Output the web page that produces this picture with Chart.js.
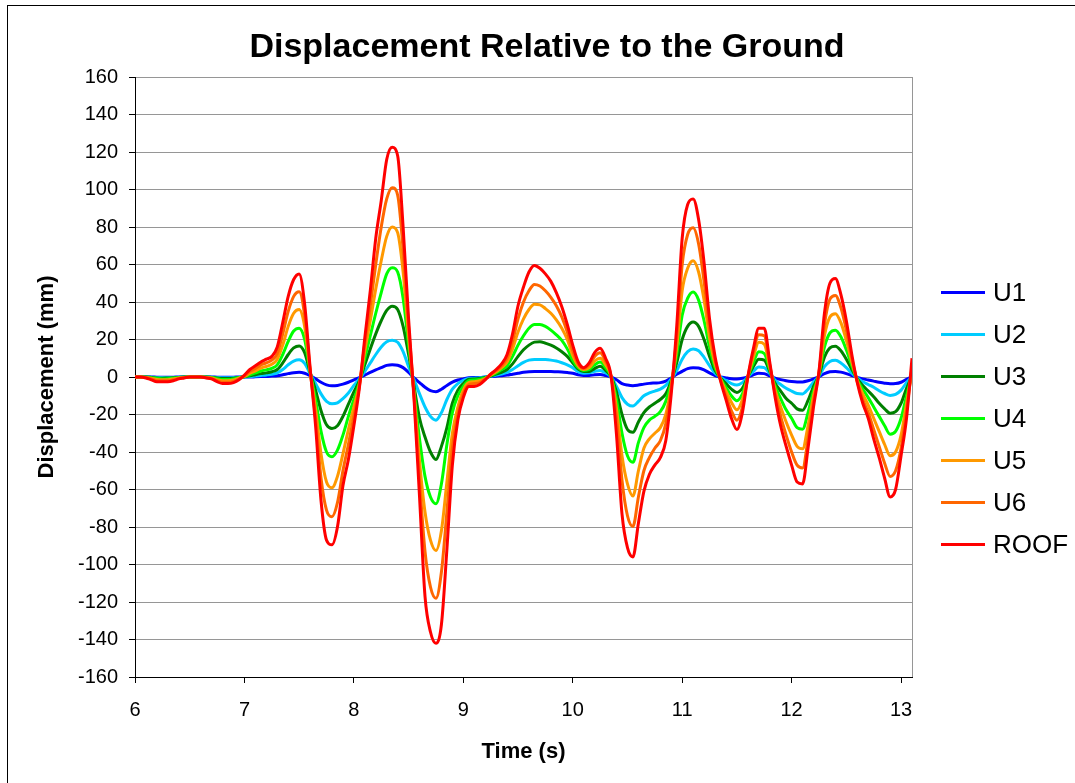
<!DOCTYPE html>
<html><head><meta charset="utf-8">
<script src="https://cdn.jsdelivr.net/npm/chart.js@4.4.1/dist/chart.umd.min.js"></script>
<style>html,body{margin:0;padding:0;background:#fff;}canvas{display:block;}</style>
</head><body>
<canvas id="c" width="1075" height="783"></canvas>
<script>
// Time (s)
const times = [
6,6.05,6.1,6.15,6.2,6.25,6.3,6.35,6.4,6.45,6.5,6.55,6.6,6.65,6.7,6.75,6.8,6.85,6.9,6.95,
7,7.05,7.1,7.15,7.2,7.25,7.3,7.35,7.4,7.45,7.5,7.55,7.6,7.65,7.7,7.75,7.8,7.85,7.9,7.95,
8,8.05,8.1,8.15,8.2,8.25,8.3,8.35,8.4,8.45,8.5,8.55,8.6,8.65,8.7,8.75,8.8,8.85,8.9,8.95,
9,9.05,9.1,9.15,9.2,9.25,9.3,9.35,9.4,9.45,9.5,9.55,9.6,9.65,9.7,9.75,9.8,9.85,9.9,9.95,
10,10.05,10.1,10.15,10.2,10.25,10.3,10.35,10.4,10.45,10.5,10.55,10.6,10.65,10.7,10.75,10.8,10.85,10.9,10.95,
11,11.05,11.1,11.15,11.2,11.25,11.3,11.35,11.4,11.45,11.5,11.55,11.6,11.65,11.7,11.75,11.8,11.85,11.9,11.95,
12,12.05,12.1,12.15,12.2,12.25,12.3,12.35,12.4,12.45,12.5,12.55,12.6,12.65,12.7,12.75,12.8,12.85,12.9,12.95,
13,13.05,13.1];

// Displacement (mm)
const U1 = [
0,0,0,0,-0.1,-0.1,-0.1,-0.1,0,0,0,0,0,0,0,-0.1,-0.1,-0.1,-0.1,0,
0,0,0.1,0.2,0.3,0.5,0.7,1.2,1.8,2.3,2.5,2,0.7,-1,-2.8,-4.2,-4.7,-4.5,-3.8,-2.8,
-1.5,-0.3,1,2.5,3.8,5,6.2,6.6,6.3,5,2.5,-0.5,-3,-5.5,-7.3,-7.8,-6.5,-4.5,-2.7,-1.6,
-1,-0.4,-0.3,-0.2,0,0.2,0.4,0.7,1,1.5,2,2.5,2.8,2.9,2.9,2.9,2.9,2.8,2.7,2.4,
2,1.2,0.8,0.8,1.2,1.3,0.8,0,-1.5,-3.5,-4.3,-4.6,-4.3,-3.8,-3.4,-3.2,-3,-2.2,-0.5,1.5,
3,4.5,5,4.8,3.8,2.2,0.8,0,-0.5,-0.9,-1,-0.7,0,1.2,2,1.8,0.6,-0.6,-1.4,-2,
-2.4,-2.6,-2.6,-2,-1,0.2,1.8,2.8,3,2.6,1.8,0.8,-0.2,-1,-1.6,-2.2,-2.8,-3.3,-3.6,-3.5,
-2.8,-1.2,0.2];
const U2 = [
0,0,0,-0.1,-0.2,-0.3,-0.3,-0.2,-0.1,0,0,0,0,0,-0.1,-0.2,-0.4,-0.4,-0.3,-0.1,
0,0.2,0.5,0.8,1.1,1.5,2.2,4,6.5,8.5,9.2,7.3,1.8,-3.5,-9,-13,-14.3,-13.8,-11.5,-8.5,
-4.5,-1,3,7.5,12,16,18.8,19.6,18.5,13.5,5.5,-1.5,-9,-16,-21,-23,-19,-12,-6.5,-3.5,
-1.8,-0.8,-0.6,-0.4,0,0.4,1,1.6,2.5,4,6,7.8,9,9.4,9.4,9.3,9,8.5,7.6,6.5,
5,2.8,2,2.2,3,3.5,2.2,0.1,-5,-11,-14.5,-15.5,-13,-10,-8.5,-7.5,-6.5,-4.5,-1,3.5,
9.5,13.5,15,14,10.5,6,2,-0.2,-1.8,-3.5,-4.3,-3,0,3,5.3,5,1.8,-1.8,-4,-6,
-7.5,-8.8,-9,-6.5,-2.8,0.5,5.5,8.3,8.9,7.5,5,2,-0.5,-2.5,-4,-5.5,-7.3,-8.8,-9.8,-9.3,
-7,-3,0.2];
const U3 = [
0,0,0,-0.2,-0.5,-0.6,-0.5,-0.4,-0.2,0,0,0,0,0,-0.2,-0.5,-0.8,-0.8,-0.6,-0.2,
0.1,0.6,1.2,1.8,2.2,2.8,4,7.5,12,15.5,16.6,13,2.5,-7,-18,-25.5,-27.5,-26,-21,-14.5,
-8,-2,6.5,15,23,30,35.5,37.7,36,27,12,-5,-22,-32,-40,-44,-37,-27,-14,-7,
-3.5,-1.2,-1,-0.8,-0.3,0.5,1.5,2.5,4,7,11,14.5,17,18.6,18.8,18,17,15.5,13.5,11,
7.5,4.2,3,3,4.5,5.8,3.5,0.2,-8,-20,-28,-29.5,-24,-19,-16,-14,-12,-9,-2,7.5,
20,27,29.3,27,20,11,3.5,-0.5,-3.5,-6.5,-8.2,-6,0,5.5,9.5,9,3,-3.5,-7.5,-11.5,
-14,-17,-17.7,-12.5,-5,1,10.5,15.5,16.4,14,9.5,4,-1,-4.5,-7.5,-10.5,-14,-17,-19.3,-18.5,
-14,-6,0.5];
const U4 = [
0,0,-0.1,-0.4,-0.8,-1,-0.9,-0.6,-0.3,-0.1,0,0,0,-0.1,-0.3,-0.9,-1.3,-1.3,-1,-0.3,
0.2,1.2,2.2,3.2,3.8,4.6,6.5,12,19,24.5,26,20,3,-12,-29,-40,-42.5,-39,-31,-21,
-12,-3,10,22,34,45,55,58.3,56,42,17,-8,-33,-53,-64,-67.6,-57,-36,-19,-10,
-5,-2,-1.6,-1.2,-0.5,0.8,2.2,4,6,11,17,22,26,28,28,27,25,22.5,19.5,15,
9,5,3.5,4,6.5,8,5,0.3,-12,-30,-42,-45.5,-35,-27,-23,-21,-18.5,-13,-3,12,
33,42,45.3,41,30,16,5,-0.8,-5.5,-10,-12.6,-9,0,7.5,13.5,12.5,4,-5,-11.5,-17.5,
-22,-27,-27.8,-19,-7.5,1.5,16,23.5,25,21.5,14.5,6,-1.5,-6.5,-11,-16,-21,-26,-30.5,-29,
-22,-10,1.5];
const U5 = [
0,0,-0.2,-0.7,-1.3,-1.5,-1.4,-1,-0.5,-0.2,0,0,0,-0.2,-0.5,-1.4,-2,-2,-1.6,-0.6,
0.3,2,3.3,4.8,5.6,6.8,9.5,17,27,34,36,27,3.5,-17,-41,-56,-59,-53,-41,-28,
-16,-4,14,30,47,62,75,80,77,56,22,-9,-45,-72,-87,-92.5,-82,-56,-30,-16,
-7,-3,-2.5,-2,-0.8,1,2.8,5,8,15,24,31,36,38.8,38.5,36.5,34,30.5,26,20,
11.5,6,4,5,8.5,10,6.5,0.5,-17,-42,-57,-63.5,-50,-38,-33,-30,-27,-20,-5,16,
46,58,62,56,41,21,7,-1,-7.5,-13.5,-17.5,-12,0,10.5,18.5,17.5,5.5,-7,-16,-24,
-31,-37,-38.3,-26,-10,2,22,32,33.8,29,19.5,8,-2,-9,-15,-22,-29,-36,-42,-40,
-31,-14,3];
const U6 = [
0,0,-0.3,-1,-2,-2,-2,-1.5,-0.8,-0.3,0,0,0,-0.3,-0.8,-2,-2.8,-2.8,-2.3,-1,
0.5,3,4.5,6.5,7.5,9,12.5,23,35,43,45.5,33,4,-22,-54,-71,-74.5,-67,-50,-36,
-21,-5,18,38,60,80,95,101,97,68,27,-10,-55,-93,-112,-118,-104,-72,-38,-20,
-9,-4,-3.5,-3,-1,1.5,3.5,6,10,19,31,40,46,49.4,48.5,46,42.5,38,32,24,
14,7,4.5,6.5,11,13,8.5,0.5,-22,-55,-74,-79.7,-64,-50,-43,-38,-34,-25,-6,21,
60,76,79.6,71,51,26,9,-1.5,-10,-18,-23,-16,0,13,22.5,22,6.5,-9,-21,-31,
-40,-47,-48.5,-33,-13,2.5,28,41.5,43.5,37,25,10,-2.5,-12,-19,-28,-37,-46,-53,-50,
-38,-18,5];
const ROOF = [
0,0,-0.5,-1.5,-2.5,-2.5,-2.5,-2,-1,-0.5,0,0,0,-0.5,-1,-2.5,-3.5,-3.5,-3,-1.5,
1,4,6,8,9.5,11,16,29,43,52,55,39,5,-26,-66,-87,-89.5,-80,-58,-44,
-26,-6,21,46,74,94,116,122.5,118,80,31,-12,-64,-117,-136,-142,-132,-92,-47,-23,
-11,-5,-5,-4,-1.5,1.5,4,7,12,23,38,48,56,59.5,58,55,51,45,37.5,28,
17,8,5,7.5,13,15.3,10,0.5,-31,-73,-91,-96,-78,-61,-52,-47,-43,-34,-9,27,
74,92,95,84,61,31,11,-2,-12,-22,-28,-19,0,15,26,26,8,-11,-26,-37,
-47,-56,-57,-38,-16,3,34,50,52.5,44,30,12,-3,-14,-22,-33,-43,-54,-64,-60,
-42,-22,10];

const seriesNames = ['U1','U2','U3','U4','U5','U6','ROOF'];
const seriesData = [U1,U2,U3,U4,U5,U6,ROOF];
const seriesColors = ['#0000FF','#00CCFF','#008000','#00FF00','#FF9900','#FF6600','#FF0000'];
const xTicks = [6,7,8,9,10,11,12,13];
const yTicks = [-160,-140,-120,-100,-80,-60,-40,-20,0,20,40,60,80,100,120,140,160];
const chartTitle = 'Displacement Relative to the Ground';
const xTitle = 'Time (s)';
const yTitle = 'Displacement (mm)';

const FONT = 'Arial, "Liberation Sans", sans-serif';
Chart.defaults.font.family = FONT;
Chart.defaults.color = '#000';

const datasets = seriesNames.map((name, i) => ({
  label: name,
  data: times.map((t, k) => ({x: t, y: seriesData[i][k]})),
  borderColor: seriesColors[i],
  backgroundColor: seriesColors[i],
  borderWidth: 3,
  pointRadius: 0,
  fill: false,
  cubicInterpolationMode: 'monotone',
  order: seriesNames.length - 1 - i
}));

const framePlugin = {
  id: 'frame',
  beforeDraw(chart) {
    const ctx = chart.ctx;
    ctx.save();
    ctx.fillStyle = '#fff';
    ctx.fillRect(0, 0, chart.width, chart.height);
    ctx.strokeStyle = '#000';
    ctx.lineWidth = 1;
    ctx.strokeRect(7.5, 5.5, 1100, 800);
    ctx.restore();
  },
  beforeDatasetsDraw(chart) {
    const {ctx, chartArea} = chart;
    ctx.save();
    ctx.strokeStyle = '#969696';
    ctx.lineWidth = 1;
    const x = Math.round(chartArea.right) + 0.5;
    ctx.beginPath();
    ctx.moveTo(x, chartArea.top);
    ctx.lineTo(x, chartArea.bottom);
    ctx.stroke();
    ctx.restore();
  },
  afterDraw(chart) {
    const ctx = chart.ctx;
    ctx.save();
    // title
    ctx.fillStyle = '#000';
    ctx.font = 'bold 34px ' + FONT;
    ctx.textAlign = 'center';
    ctx.textBaseline = 'middle';
    ctx.fillText(chartTitle, 547, 48);
    // legend
    ctx.font = '26px ' + FONT;
    ctx.textAlign = 'left';
    chart.data.datasets.forEach((ds, i) => {
      const y = 292.5 + i * 42;
      ctx.strokeStyle = ds.borderColor;
      ctx.lineWidth = 3;
      ctx.beginPath();
      ctx.moveTo(941, y);
      ctx.lineTo(985, y);
      ctx.stroke();
      ctx.fillStyle = '#000';
      ctx.fillText(ds.label, 993, y + 1);
    });
    ctx.restore();
  }
};

new Chart(document.getElementById('c'), {
  type: 'line',
  data: {datasets},
  options: {
    responsive: false,
    animation: false,
    devicePixelRatio: 1,
    layout: {padding: {left: 8, top: 77, right: 163, bottom: 0}},
    plugins: {legend: {display: false}, tooltip: {enabled: false}, title: {display: false}},
    scales: {
      x: {
        type: 'linear',
        min: 6, max: 13.1,
        afterBuildTicks: s => { s.ticks = xTicks.map(v => ({value: v})); },
        afterFit: s => { s.height = 106; },
        ticks: {font: {size: 20}, color: '#000', padding: 15, maxRotation: 0, autoSkip: false},
        grid: {drawOnChartArea: false, drawTicks: true, tickLength: 6, tickColor: '#000'},
        border: {color: '#000', width: 1},
        title: {display: true, text: xTitle, font: {size: 22, weight: 'bold'}, color: '#000', padding: {top: 0, bottom: 18}}
      },
      y: {
        type: 'linear',
        min: -160, max: 160,
        afterBuildTicks: s => { s.ticks = yTicks.map(v => ({value: v})); },
        afterFit: s => { s.width = 127; },
        ticks: {font: {size: 20}, color: '#000', padding: 11, autoSkip: false},
        grid: {color: '#969696', lineWidth: 1, drawTicks: true, tickLength: 6, tickColor: '#000'},
        border: {color: '#000', width: 1},
        title: {display: true, text: yTitle, font: {size: 22, weight: 'bold'}, color: '#000', padding: {top: 26, bottom: 0}}
      }
    }
  },
  plugins: [framePlugin]
});
</script>
</body></html>
